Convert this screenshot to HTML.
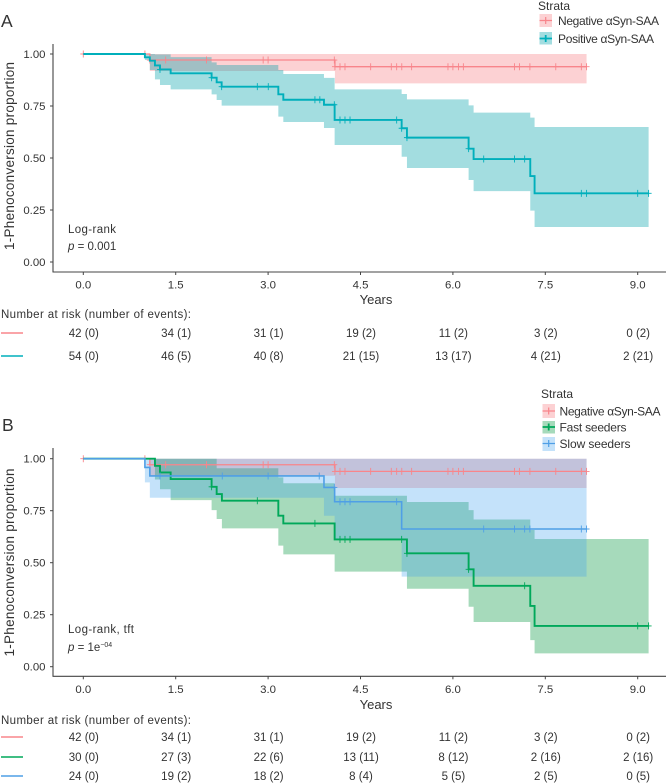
<!DOCTYPE html>
<html lang="en">
<head>
<meta charset="utf-8">
<title>Kaplan-Meier curves of phenoconversion</title>
<style>
html,body{margin:0;padding:0;background:#fff;}
svg{display:block;}
text{font-family:"Liberation Sans","DejaVu Sans",sans-serif;fill:#333;}
</style>
</head>
<body>
<svg id="chart" xmlns="http://www.w3.org/2000/svg" width="669" height="783" viewBox="0 0 669 783">
  <text x="1" y="27" font-size="17.5">A</text>
  <text x="2" y="431" font-size="17.5">B</text>
  <text transform="translate(14,156) rotate(-90)" text-anchor="middle" font-size="13.5" textLength="188" lengthAdjust="spacing">1-Phenoconversion proportion</text>
  <text transform="translate(14,562.5) rotate(-90)" text-anchor="middle" font-size="13.5" textLength="188" lengthAdjust="spacing">1-Phenoconversion proportion</text>
  <text x="376" y="304" text-anchor="middle" font-size="13">Years</text>
  <text x="376" y="709" text-anchor="middle" font-size="13">Years</text>
  <text x="68" y="233" font-size="11.5" textLength="48">Log-rank</text>
  <text x="68" y="250" font-size="11.5"><tspan font-style="italic">p</tspan> = 0.001</text>
  <text x="68" y="633" font-size="11.5" textLength="66">Log-rank, tft</text>
  <text x="68" y="651" font-size="11.5"><tspan font-style="italic">p</tspan> = 1e<tspan font-size="7" dy="-4">−04</tspan></text>
  <text x="1" y="318" font-size="11.5" textLength="190">Number at risk (number of events):</text>
  <text x="1" y="724" font-size="11.5" textLength="190">Number at risk (number of events):</text>

  <g>
    <text x="538" y="10" font-size="12">Strata</text>
    <rect x="539.5" y="14" width="12.5" height="13" fill="#f8858b" fill-opacity="0.38"/>
    <path d="M539.5 20.5H552M545.7 17V24" stroke="#f8858b" stroke-width="1.2" fill="none"/>
    <text x="558" y="25" font-size="12" textLength="101">Negative αSyn-SAA</text>
    <rect x="539.5" y="32" width="12.5" height="12.5" fill="#00a0aa" fill-opacity="0.36"/>
    <path d="M539.5 38.5H552M545.7 35V42" stroke="#00afbb" stroke-width="1.8" fill="none"/>
    <text x="558" y="43" font-size="12" textLength="96">Positive αSyn-SAA</text>
  </g>
  <g>
    <text x="541" y="398" font-size="12">Strata</text>
    <rect x="542.5" y="404" width="12.5" height="14" fill="#f8858b" fill-opacity="0.38"/>
    <path d="M542.5 411H555M548.7 407.5V414.5" stroke="#f8858b" stroke-width="1.2" fill="none"/>
    <text x="559.5" y="415.5" font-size="12" textLength="101">Negative αSyn-SAA</text>
    <rect x="542.5" y="421" width="12.5" height="12.5" fill="#00963c" fill-opacity="0.35"/>
    <path d="M542.5 427H555M548.7 423.5V430.5" stroke="#00a85a" stroke-width="1.8" fill="none"/>
    <text x="559.5" y="431.5" font-size="12" textLength="67">Fast seeders</text>
    <rect x="542.5" y="437" width="12.5" height="14" fill="#3ca0f0" fill-opacity="0.3"/>
    <path d="M542.5 443.5H555M548.7 440V447" stroke="#4f9fe6" stroke-width="1.2" fill="none"/>
    <text x="559.5" y="448" font-size="12" textLength="71">Slow seeders</text>
  </g>
</svg>
<script>
const xTickValues = [0, 1.5, 3, 4.5, 6, 7.5, 9];
const xTickLabels = ["0.0", "1.5", "3.0", "4.5", "6.0", "7.5", "9.0"];
const yTickValues = [0, 0.25, 0.5, 0.75, 1];
const yTickLabels = ["0.00", "0.25", "0.50", "0.75", "1.00"];

const negTimes = [0, 1.08, 4.085, 8.17];
const negSurv = [1, 0.971, 0.939, 0.939];
const negUpper = [1, 1, 1, 1];
const negLower = [1, 0.918, 0.859, 0.859];
const negCensor = [0, 1, 1.08, 1.337, 2, 2.92, 3, 4.075, 4.085, 4.167, 4.248, 4.665, 5, 5.087, 5.17, 5.33, 5.92, 6, 6.09, 6.17, 7, 7.08, 7.25, 7.67, 8.085, 8.17];

const posTimes = [0, 1, 1.08, 1.163, 1.245, 1.418, 2.083, 2.165, 2.246, 3.166, 3.247, 3.907, 4.08, 5.168, 5.254, 6.255, 6.336, 7.256, 7.326, 9.177];
const posSurv = [1, 0.984, 0.968, 0.945, 0.926, 0.907, 0.886, 0.864, 0.843, 0.806, 0.78, 0.756, 0.683, 0.643, 0.598, 0.545, 0.495, 0.413, 0.33, 0.33];
const posUpper = [1, 1, 1, 0.998, 0.998, 0.985, 0.96, 0.947, 0.947, 0.923, 0.904, 0.885, 0.83, 0.808, 0.782, 0.753, 0.718, 0.694, 0.649, 0.649];
const posLower = [1, 0.971, 0.923, 0.878, 0.851, 0.83, 0.806, 0.779, 0.752, 0.699, 0.673, 0.644, 0.5625, 0.506, 0.452, 0.394, 0.341, 0.247, 0.168, 0.168];
const posCensor = [1.245, 2.083, 2.246, 2.825, 3.003, 3.76, 3.84, 4.075, 4.167, 4.248, 4.33, 5.087, 5.168, 5.254, 6.255, 6.5, 7, 7.165, 8.085, 8.17, 9, 9.177];

const fastTimes = [0, 1.163, 1.245, 1.418, 2.083, 2.165, 2.25, 3.166, 3.247, 4.08, 5.254, 6.255, 6.336, 7.256, 7.326, 9.177];
const fastSurv = [1, 0.966, 0.934, 0.902, 0.865, 0.83, 0.798, 0.726, 0.689, 0.612, 0.545, 0.468, 0.389, 0.292, 0.196, 0.196];
const fastUpper = [1, 1, 1, 1, 1, 0.954, 0.954, 0.91, 0.882, 0.822, 0.792, 0.753, 0.708, 0.657, 0.614, 0.614];
const fastLower = [1, 0.9, 0.853, 0.801, 0.753, 0.71, 0.665, 0.582, 0.54, 0.457, 0.375, 0.288, 0.215, 0.128, 0.064, 0.064];
const fastCensor = [2.083, 2.825, 3.76, 4.167, 4.248, 4.33, 5.168, 5.254, 6.255, 7.165, 9, 9.177];

const slowTimes = [0, 1, 1.08, 3.907, 4.08, 5.168, 8.17];
const slowSurv = [1, 0.958, 0.917, 0.862, 0.793, 0.662, 0.662];
const slowUpper = [1, 1, 1, 1, 1, 1, 1];
const slowLower = [1, 0.886, 0.812, 0.726, 0.609, 0.433, 0.433];
const slowCensor = [1.245, 2.256, 3, 3.83, 4.075, 4.167, 4.248, 4.33, 5.087, 6.5, 7, 7.165, 7.25, 8.085, 8.17];

const riskNegative = ["42 (0)", "34 (1)", "31 (1)", "19 (2)", "11 (2)", "3 (2)", "0 (2)"];
const riskPositive = ["54 (0)", "46 (5)", "40 (8)", "21 (15)", "13 (17)", "4 (21)", "2 (21)"];
const riskFast = ["30 (0)", "27 (3)", "22 (6)", "13 (11)", "8 (12)", "2 (16)", "2 (16)"];
const riskSlow = ["24 (0)", "19 (2)", "18 (2)", "8 (4)", "5  (5)", "2 (5)", "0 (5)"];

const NS = "http://www.w3.org/2000/svg";
const svg = document.getElementById("chart");

function xScale(t) {
  return 83.3 + t * 61.6;
}
function makeYScale(zeroPx) {
  return function (v) {
    return zeroPx - v * 208;
  };
}
function add(parent, tag, attrs) {
  const el = document.createElementNS(NS, tag);
  for (const k in attrs) el.setAttribute(k, attrs[k]);
  parent.appendChild(el);
  return el;
}
function survAt(times, surv, t) {
  let v = surv[0];
  for (let i = 0; i < times.length; i++) {
    if (times[i] <= t + 1e-6) v = surv[i];
  }
  return v;
}
function drawBand(g, y, times, upper, lower, color, alpha, name) {
  let top = "";
  let bottom = "";
  for (let i = 0; i < times.length - 1; i++) {
    const x0 = xScale(times[i]).toFixed(2);
    const x1 = xScale(times[i + 1]).toFixed(2);
    top += (i === 0 ? "M" : "L") + x0 + " " + y(upper[i]).toFixed(2) + "L" + x1 + " " + y(upper[i]).toFixed(2);
    bottom = "L" + x1 + " " + y(lower[i]).toFixed(2) + "L" + x0 + " " + y(lower[i]).toFixed(2) + bottom;
  }
  const band = add(g, "path", { d: top + bottom + "Z", fill: color, "fill-opacity": alpha });
  
  
}
function drawCurve(g, y, times, surv, censor, color, width, name) {
  let d = "M" + xScale(times[0]).toFixed(2) + " " + y(surv[0]).toFixed(2);
  for (let i = 1; i < times.length; i++) {
    d += "H" + xScale(times[i]).toFixed(2) + "V" + y(surv[i]).toFixed(2);
  }
  const line = add(g, "path", { d: d, fill: "none", stroke: color, "stroke-width": width });
  
  
  censor.forEach(function (t) {
    const px = xScale(t);
    const py = y(survAt(times, surv, t));
    const mark = add(g, "path", {
      d: "M" + px.toFixed(2) + " " + (py - 3.5).toFixed(2) + "V" + (py + 3.5).toFixed(2) + "M" + (px - 3).toFixed(2) + " " + py.toFixed(2) + "H" + (px + 3).toFixed(2),
      fill: "none", stroke: color, "stroke-width": 0.9
    });
    
    
  });
}
function drawAxes(g, y, axisTop, axisBottom, panel) {
  const yAxis = add(g, "line", { x1: 53, x2: 53, y1: axisTop, y2: axisBottom, stroke: "#444", "stroke-width": 1.1 });
  
  
  const xAxis = add(g, "line", { x1: 52.5, x2: 666, y1: axisBottom, y2: axisBottom, stroke: "#444", "stroke-width": 1.1 });
  
  
  yTickValues.forEach(function (v, i) {
    const tick = add(g, "line", { x1: 50, x2: 53, y1: y(v), y2: y(v), stroke: "#444", "stroke-width": 1 });
    
    
    const label = add(g, "text", { x: 45.5, y: y(v) + 4, "text-anchor": "end", "font-size": 11.4 });
    
    
    label.textContent = yTickLabels[i];
  });
  xTickValues.forEach(function (t, i) {
    const tick = add(g, "line", { x1: xScale(t), x2: xScale(t), y1: axisBottom, y2: axisBottom + 3, stroke: "#444", "stroke-width": 1 });
    
    
    const label = add(g, "text", { x: xScale(t), y: axisBottom + 16.5, "text-anchor": "middle", "font-size": 11.4 });
    
    
    label.textContent = xTickLabels[i];
  });
}
function drawRiskRow(g, rowValues, rowY, color, name) {
  const key = add(g, "line", { x1: 1, x2: 23, y1: rowY, y2: rowY, stroke: color, "stroke-width": 1.6 });
  
  
  rowValues.forEach(function (value, i) {
    const cell = add(g, "text", { x: xScale(xTickValues[i]) + 0.5, y: rowY + 4, "text-anchor": "middle", "font-size": 11.5 });
    
    
    cell.textContent = value;
  });
}

const COL_NEG = "#f8858b";
const COL_POS = "#00afbb";
const COL_POS_BAND = "#00a0aa";
const COL_FAST = "#00a85a";
const COL_FAST_BAND = "#00963c";
const COL_SLOW = "#4f9fe6";
const COL_SLOW_BAND = "#3ca0f0";

const panelA = add(svg, "g", {});


const yA = makeYScale(262);
drawBand(panelA, yA, negTimes, negUpper, negLower, COL_NEG, 0.38, "negative-a");
drawBand(panelA, yA, posTimes, posUpper, posLower, COL_POS_BAND, 0.36, "positive-a");
drawCurve(panelA, yA, negTimes, negSurv, negCensor, COL_NEG, 1.3, "negative-a");
drawCurve(panelA, yA, posTimes, posSurv, posCensor, COL_POS, 1.9, "positive-a");
drawAxes(panelA, yA, 44, 272, "panel-a");
drawRiskRow(panelA, riskNegative, 333, COL_NEG, "negative-a");
drawRiskRow(panelA, riskPositive, 356, COL_POS, "positive-a");

const panelB = add(svg, "g", {});


const yB = makeYScale(666.7);
drawBand(panelB, yB, negTimes, negUpper, negLower, COL_NEG, 0.38, "negative-b");
drawBand(panelB, yB, fastTimes, fastUpper, fastLower, COL_FAST_BAND, 0.35, "fast-seeders");
drawBand(panelB, yB, slowTimes, slowUpper, slowLower, COL_SLOW_BAND, 0.3, "slow-seeders");
drawCurve(panelB, yB, negTimes, negSurv, negCensor, COL_NEG, 1.3, "negative-b");
drawCurve(panelB, yB, fastTimes, fastSurv, fastCensor, COL_FAST, 1.9, "fast-seeders");
drawCurve(panelB, yB, slowTimes, slowSurv, slowCensor, COL_SLOW, 1.6, "slow-seeders");
drawAxes(panelB, yB, 448, 676.3, "panel-b");
drawRiskRow(panelB, riskNegative, 737, COL_NEG, "negative-b");
drawRiskRow(panelB, riskFast, 757, COL_FAST, "fast-seeders");
drawRiskRow(panelB, riskSlow, 776, COL_SLOW, "slow-seeders");
</script>
</body>
</html>
